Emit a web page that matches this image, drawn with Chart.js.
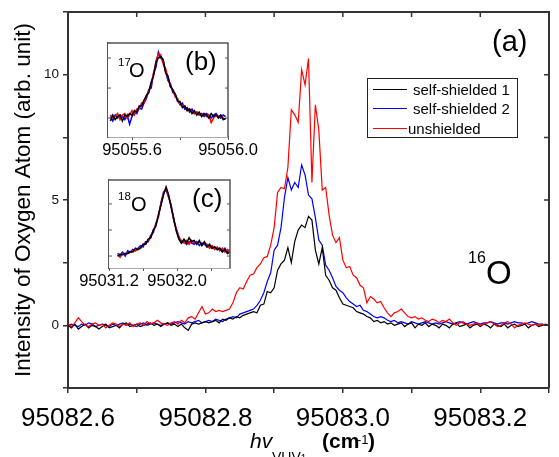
<!DOCTYPE html>
<html><head><meta charset="utf-8">
<script src="https://cdn.jsdelivr.net/npm/chart.js@4/dist/chart.umd.min.js"></script>
<style>
html,body{margin:0;padding:0;background:#fff;}
#wrap{position:relative;width:559px;height:457px;overflow:hidden;font-family:Arial,'Liberation Sans',sans-serif;color:#000;}
canvas{position:absolute;}
.t{position:absolute;white-space:nowrap;line-height:1;}
#legend{position:absolute;left:367px;top:78px;width:149px;height:58px;border:1px solid #222;background:#fff;}
.lg-line{position:absolute;height:1px;}
</style></head><body>
<div id="wrap">
<canvas id="main" width="559" height="457" style="left:0;top:0;width:559px;height:457px"></canvas>
<canvas id="insetB" width="210" height="125" style="left:68px;top:38px;width:210px;height:125px"></canvas>
<canvas id="insetC" width="210" height="125" style="left:69px;top:175px;width:210px;height:125px"></canvas>
<div id="legend"></div>
<div class="t" style="left:492px;top:27px;font-size:29px">(a)</div>
<div class="t" style="left:468px;top:250px;font-size:16px">16</div>
<div class="t" style="left:486px;top:256px;font-size:33px">O</div>
<div class="t" style="left:185px;top:48px;font-size:26px">(b)</div>
<div class="t" style="left:118px;top:57px;font-size:11.5px">17</div>
<div class="t" style="left:129px;top:60px;font-size:20px">O</div>
<div class="t" style="left:192px;top:185px;font-size:26px">(c)</div>
<div class="t" style="left:118px;top:191px;font-size:11.5px">18</div>
<div class="t" style="left:131px;top:194px;font-size:20px">O</div>
<div class="t" style="left:250px;top:430px;font-size:21px;font-style:italic">hv</div>
<div class="t" style="left:272px;top:450px;font-size:14px">VUV<span style="font-size:10px">1</span></div>
<div class="t" style="left:322px;top:430px;font-size:21px;font-weight:bold">(cm</div>
<div class="t" style="left:357px;top:433px;font-size:13px">-1</div>
<div class="t" style="left:368px;top:430px;font-size:21px;font-weight:bold">)</div>
</div>
<script>
// ---------- main panel (a): 16O ----------
const wavenumber = [
95082.600,95082.605,95082.610,95082.615,95082.620,95082.625,95082.630,95082.635,95082.640,95082.645,
95082.650,95082.655,95082.660,95082.665,95082.670,95082.675,95082.680,95082.685,95082.690,95082.695,
95082.700,95082.705,95082.710,95082.715,95082.720,95082.725,95082.730,95082.735,95082.740,95082.745,
95082.750,95082.755,95082.760,95082.765,95082.770,95082.775,95082.780,95082.785,95082.790,95082.795,
95082.800,95082.805,95082.810,95082.815,95082.820,95082.825,95082.830,95082.835,95082.840,95082.845,
95082.850,95082.855,95082.860,95082.865,95082.870,95082.875,95082.880,95082.885,95082.890,95082.895,
95082.900,95082.905,95082.910,95082.915,95082.920,95082.925,95082.930,95082.935,95082.940,95082.945,
95082.950,95082.955,95082.960,95082.965,95082.970,95082.975,95082.980,95082.985,95082.990,95082.995,
95083.000,95083.005,95083.010,95083.015,95083.020,95083.025,95083.030,95083.035,95083.040,95083.045,
95083.050,95083.055,95083.060,95083.065,95083.070,95083.075,95083.080,95083.085,95083.090,95083.095,
95083.100,95083.105,95083.110,95083.115,95083.120,95083.125,95083.130,95083.135,95083.140,95083.145,
95083.150,95083.155,95083.160,95083.165,95083.170,95083.175,95083.180,95083.185,95083.190,95083.195,
95083.200,95083.205,95083.210,95083.215,95083.220,95083.225,95083.230,95083.235,95083.240,95083.245,
95083.250,95083.255,95083.260,95083.265,95083.270,95083.275,95083.280,95083.285,95083.290,95083.295,
95083.300];
const selfShielded1 = [
0.0,-0.1,0.05,-0.15,-0.05,0.05,-0.1,0.0,-0.05,-0.15,
-0.05,0.05,-0.1,-0.05,0.0,-0.1,0.05,0.1,-0.05,0.0,
0.05,-0.05,0.0,0.05,0.1,0.0,0.05,-0.05,0.05,0.1,
0.0,0.05,-0.05,0.05,-0.1,-0.2,0.05,0.1,0.05,0.1,
0.15,0.1,0.15,0.2,0.1,0.25,0.2,0.3,0.25,0.35,
0.3,0.4,0.45,0.5,0.55,0.5,0.8,0.85,1.35,1.3,
1.5,2.2,2.45,2.6,3.1,2.5,3.35,3.8,4.0,3.9,
4.35,4.2,3.0,2.45,3.1,2.0,1.8,1.5,1.4,1.1,
0.85,0.8,0.75,0.7,0.55,0.5,0.45,0.35,0.3,0.15,
0.2,0.1,0.15,0.05,0.1,0.0,0.05,0.1,-0.05,0.05,
0.1,-0.1,0.05,0.0,0.1,-0.05,0.05,0.0,-0.1,0.05,
0.0,-0.1,0.05,0.1,-0.05,0.0,0.05,-0.1,0.0,0.05,
-0.05,0.05,0.0,-0.1,0.05,0.0,-0.05,0.05,-0.1,0.0,
0.05,-0.05,0.0,0.05,-0.1,0.0,0.05,-0.05,0.0,0.05,
0.0];
const selfShielded2 = [
0.0,0.05,0.0,-0.05,0.05,0.0,0.1,0.05,-0.05,0.0,
0.05,0.0,-0.05,0.05,0.0,0.05,0.1,0.0,0.05,0.0,
-0.05,0.05,0.1,0.0,0.05,0.1,0.05,0.0,0.05,0.1,
0.05,0.1,0.15,0.1,0.05,0.15,0.1,0.15,0.2,0.1,
0.15,0.2,0.15,0.25,0.2,0.15,0.25,0.3,0.35,0.3,
0.45,0.5,0.55,0.6,0.65,0.8,1.0,1.3,1.75,2.1,
3.0,3.2,3.9,5.1,5.9,5.4,5.7,5.5,6.4,6.0,
5.2,5.05,4.3,3.4,3.2,2.4,2.2,1.9,1.55,1.4,
1.3,1.1,0.95,0.85,0.75,0.8,0.6,0.55,0.45,0.35,
0.3,0.35,0.3,0.2,0.15,0.2,0.1,0.15,0.1,0.05,
0.15,0.1,0.05,0.1,0.15,0.1,0.05,0.1,0.05,0.1,
0.15,0.1,0.05,0.1,0.15,0.1,0.05,0.1,0.15,0.1,
0.05,0.1,0.1,0.15,0.1,0.05,0.1,0.1,0.05,0.1,
0.15,0.1,0.1,0.05,0.1,0.15,0.1,0.05,0.05,0.0,
0.0];
const unshielded = [
0.05,-0.05,0.1,0.3,0.15,0.0,-0.05,0.05,0.1,0.0,
0.05,-0.1,0.0,0.1,0.05,-0.05,0.05,0.0,0.1,-0.05,
0.05,0.1,0.0,0.15,0.05,0.1,0.2,0.1,0.05,0.0,
0.1,0.15,0.05,0.2,0.1,0.3,0.35,0.25,0.5,0.75,
0.45,0.5,0.65,0.55,0.6,0.55,0.6,0.65,0.9,1.3,
1.5,1.45,1.75,2.0,2.05,2.3,2.45,2.7,2.75,3.2,
3.9,5.3,5.5,5.45,6.3,8.6,8.4,8.1,10.2,9.6,
10.65,5.7,8.8,7.8,5.4,5.5,4.4,3.6,3.3,3.5,
2.6,2.3,2.35,2.0,1.9,1.6,1.5,0.9,1.15,1.05,
0.9,0.95,0.7,0.5,0.35,0.5,0.55,0.65,0.5,0.35,
0.3,0.35,0.25,0.3,0.2,0.15,0.25,0.2,0.1,0.2,
0.15,0.25,0.1,0.0,0.1,0.15,0.05,0.0,0.05,0.1,
0.0,0.05,0.1,0.15,0.05,-0.05,0.0,0.1,0.15,0.05,
-0.1,0.0,0.05,0.1,0.05,0.0,0.05,0.0,0.05,0.0,
0.0];
const seriesNames = ['self-shielded 1','self-shielded 2','unshielded'];
const seriesColors = ['#000000','#0000ff','#ff0000'];
const mainXTicks = [95082.6,95082.7,95082.8,95082.9,95083.0,95083.1,95083.2,95083.3];
const mainXTickLabels = ['95082.6','','95082.8','','95083.0','','95083.2',''];
const mainYTicks = [-2.5,0,2.5,5,7.5,10,12.5];
const mainYTickLabels = ['','0','','5','','10',''];
const yTitle = 'Intensity of Oxygen Atom (arb. unit)';

// ---------- inset (b): 17O ----------
const insetBX = [95055.51,95055.52,95055.53,95055.54,95055.55,95055.56,95055.57,95055.58,95055.59,95055.60,
95055.61,95055.62,95055.63,95055.64,95055.65,95055.66,95055.67,95055.68,95055.69,95055.70,
95055.71,95055.72,95055.73,95055.74,95055.75,95055.76,95055.77,95055.78,95055.79,95055.80,
95055.81,95055.82,95055.83,95055.84,95055.85,95055.86,95055.87,95055.88,95055.89,95055.90,
95055.91,95055.92,95055.93,95055.94,95055.95,95055.96,95055.97,95055.98,95055.99];
const insetBSelf1 = [-0.1,0.1,-0.05,0.05,0.1,-0.1,0.1,0.05,0.15,0.1, 0.25,0.2,0.4,0.4,0.6,0.75,0.85,1.2,1.4,1.85, 2.0,2.05,1.95,1.5,1.4,1.05,0.95,0.8,0.55,0.55, 0.35,0.4,0.25,0.3,0.15,0.25,0.1,0.2,0.05,0.15, 0.1,0.0,0.15,0.05,0.1,0.0,0.1,-0.05,0.0];
const insetBSelf2 = [0.05,-0.1,0.1,0.0,0.1,0.05,-0.05,0.1,-0.2,0.05, 0.2,0.15,0.35,0.3,0.5,0.65,0.95,1.0,1.5,1.7, 2.2,2.0,1.9,1.55,1.25,1.15,0.85,0.8,0.6,0.45, 0.5,0.3,0.35,0.2,0.3,0.15,0.2,0.1,0.15,0.05, 0.15,0.1,0.0,0.1,0.15,0.05,0.0,0.1,0.05];
const insetBUnsh = [0.1,0.0,0.05,0.15,-0.05,0.1,0.15,0.0,0.1,0.25, 0.1,0.3,0.3,0.5,0.5,0.75,0.9,1.15,1.5,1.9, 2.15,2.1,1.8,1.65,1.35,1.05,0.95,0.7,0.65,0.45, 0.4,0.4,0.25,0.3,0.2,0.15,0.2,0.1,0.1,0.15, 0.05,0.1,-0.15,0.0,0.1,0.05,0.1,0.0,-0.05];
const insetBXTicks = [95055.6,95055.8,95056.0];
const insetBXTickLabels = ['95055.6','','95056.0'];

// ---------- inset (c): 18O ----------
const insetCX = [95031.30,95031.33,95031.36,95031.39,95031.42,95031.45,95031.48,95031.51,95031.54,95031.57,
95031.60,95031.63,95031.66,95031.69,95031.72,95031.75,95031.78,95031.81,95031.84,95031.87,
95031.90,95031.93,95031.96,95031.99,95032.02,95032.05,95032.08,95032.11,95032.14,95032.17,
95032.20,95032.23,95032.26,95032.29,95032.32,95032.35,95032.38,95032.41,95032.44,95032.47,
95032.50,95032.53,95032.56,95032.59,95032.62];
const insetCSelf1 = [0.0,0.05,0.05,0.1,0.1,0.15,0.15,0.3,0.25,0.3, 0.45,0.45,0.65,0.7,1.0,1.15,1.6,1.95,2.35,2.65, 2.35,1.85,1.45,0.95,0.65,0.5,0.65,0.5,0.7,0.55, 0.6,0.45,0.6,0.4,0.55,0.35,0.45,0.3,0.35,0.25, 0.3,0.15,0.25,0.1,0.15];
const insetCSelf2 = [0.1,0.05,0.15,0.0,0.2,0.15,0.25,0.2,0.3,0.4, 0.35,0.55,0.55,0.8,0.9,1.25,1.5,2.05,2.45,2.55, 2.25,1.95,1.35,1.05,0.75,0.5,0.55,0.45,0.55,0.5, 0.45,0.55,0.4,0.5,0.45,0.35,0.4,0.3,0.35,0.25, 0.3,0.2,0.3,0.15,0.25];
const insetCUnsh = [0.05,-0.05,0.1,0.1,0.1,0.15,0.2,0.2,0.25,0.3, 0.45,0.45,0.6,0.7,1.0,1.2,1.55,2.0,2.4,2.6, 2.3,1.9,1.4,1.0,0.7,0.6,0.5,0.6,0.45,0.6, 0.5,0.5,0.55,0.4,0.5,0.45,0.3,0.4,0.25,0.35, 0.2,0.3,0.15,0.25,0.15];
const insetCXTicks = [95031.2,95031.6,95032.0,95032.4];
const insetCXTickLabels = ['95031.2','','95032.0',''];
const insetYTicks = [0,1,2];

// ---------- helpers ----------
const ARIAL = "Arial, 'Liberation Sans', sans-serif";
function ds(label, xs, ys, color, width) {
  return {label, data: xs.map((x,i)=>({x, y: ys[i]})), borderColor: color, backgroundColor: color,
          borderWidth: width, pointRadius: 0, tension: 0, fill: false};
}
const frameTicks = {
  id: 'frameTicks',
  beforeDatasetsDraw(chart, args, o) {
    if (!o.whiteBg) return;
    const a = chart.chartArea, ctx = chart.ctx;
    ctx.save(); ctx.fillStyle = '#fff'; ctx.fillRect(a.left, a.top, a.right-a.left, a.bottom-a.top); ctx.restore();
  },
  afterDraw(chart, args, o) {
    const {ctx, chartArea: a, scales} = chart;
    ctx.save();
    ctx.strokeStyle = o.color; ctx.lineWidth = o.width;
    ctx.beginPath();
    ctx.moveTo(a.left, a.top); ctx.lineTo(a.right, a.top); ctx.lineTo(a.right, a.bottom);
    ctx.stroke();
    ctx.lineWidth = o.tickWidth;
    ctx.beginPath();
    (o.top||[]).forEach(v=>{const x=scales.x.getPixelForValue(v); ctx.moveTo(x,a.top); ctx.lineTo(x,a.top+o.len);});
    (o.right||[]).forEach(v=>{const y=scales.y.getPixelForValue(v); ctx.moveTo(a.right,y); ctx.lineTo(a.right-o.len,y);});
    (o.left||[]).forEach(v=>{const y=scales.y.getPixelForValue(v); ctx.moveTo(a.left,y); ctx.lineTo(a.left+o.len,y);});
    ctx.stroke();
    ctx.restore();
  }
};

// ---------- main chart ----------
new Chart(document.getElementById('main'), {
  type: 'line',
  data: { datasets: [
    ds(seriesNames[2], wavenumber, unshielded, seriesColors[2], 1.2),
    ds(seriesNames[0], wavenumber, selfShielded1, seriesColors[0], 1.2),
    ds(seriesNames[1], wavenumber, selfShielded2, seriesColors[1], 1.2)
  ]},
  options: {
    responsive: false, animation: false, devicePixelRatio: 1,
    layout: { padding: {left: 0, right: 1, top: 10, bottom: 0} },
    plugins: { legend: {display: false}, tooltip: {enabled: false},
      frameTicks: {color: '#333', width: 2, tickWidth: 1.5, len: 5,
                   top: mainXTicks.slice(1, -1), right: mainYTicks.slice(1, -1)} },
    scales: {
      x: { type: 'linear', min: 95082.6, max: 95083.3,
        afterBuildTicks: s => { s.ticks = mainXTicks.map(v => ({value: v})); },
        afterFit: s => { s.height = 69; },
        ticks: { autoSkip: false, maxRotation: 0, minRotation: 0, padding: 10, color: '#000',
          font: {family: ARIAL, size: 26},
          callback: (v, i) => mainXTickLabels[i] },
        grid: { drawOnChartArea: false, tickLength: 5, color: '#333', lineWidth: 1.5 },
        border: { display: true, color: '#333', width: 2 }
      },
      y: { type: 'linear', min: -2.5, max: 12.5,
        afterBuildTicks: s => { s.ticks = mainYTicks.map(v => ({value: v})); },
        afterFit: s => { s.width = 68; },
        ticks: { autoSkip: false, padding: 4, color: '#111', font: {family: ARIAL, size: 13.5},
          callback: (v, i) => mainYTickLabels[i] },
        grid: { drawOnChartArea: false, tickLength: 5, color: '#333', lineWidth: 1.5 },
        border: { display: true, color: '#333', width: 2 },
        title: { display: true, text: yTitle, color: '#000', font: {family: ARIAL, size: 22.5},
          padding: {top: 10, bottom: 0} }
      }
    }
  },
  plugins: [frameTicks]
});

// ---------- insets ----------
function inset(id, xs, s1, s2, u, xmin, xmax, ymin, ymax, xTicks, xLabels, padRight, xHeight) {
  new Chart(document.getElementById(id), {
    type: 'line',
    data: { datasets: [
      ds(seriesNames[0], xs, s1, seriesColors[0], 1.5),
      ds(seriesNames[2], xs, u, seriesColors[2], 1.5),
      ds(seriesNames[1], xs, s2, seriesColors[1], 1.5)
    ]},
    options: {
      responsive: false, animation: false, devicePixelRatio: 1,
      layout: { padding: {left: 0, right: padRight, top: 5, bottom: 0} },
      plugins: { legend: {display: false}, tooltip: {enabled: false},
        frameTicks: {whiteBg: true, color: '#555', width: 1.5, tickWidth: 1, len: 3,
                     left: insetYTicks, right: insetYTicks} },
      scales: {
        x: { type: 'linear', min: xmin, max: xmax,
          afterBuildTicks: s => { s.ticks = xTicks.map(v => ({value: v})); },
          afterFit: s => { s.height = xHeight; },
          ticks: { autoSkip: false, maxRotation: 0, minRotation: 0, padding: 1, color: '#000',
            font: {family: ARIAL, size: 16.5}, callback: (v, i) => xLabels[i] },
          grid: { drawOnChartArea: false, tickLength: 3, color: '#555', lineWidth: 1 },
          border: { display: true, color: '#555', width: 1.5 }
        },
        y: { type: 'linear', min: ymin, max: ymax,
          afterBuildTicks: s => { s.ticks = insetYTicks.map(v => ({value: v})); },
          afterFit: s => { s.width = 40; },
          ticks: { display: false },
          grid: { drawOnChartArea: false, drawTicks: false },
          border: { display: true, color: '#555', width: 1.5 }
        }
      }
    },
    plugins: [frameTicks]
  });
}
inset('insetB', insetBX, insetBSelf1, insetBSelf2, insetBUnsh, 95055.5, 95056.0, -0.63, 2.5,
      insetBXTicks, insetBXTickLabels, 50, 26);
inset('insetC', insetCX, insetCSelf1, insetCSelf2, insetCUnsh, 95031.2, 95032.62, -0.46, 2.92,
      insetCXTicks, insetCXTickLabels, 49, 32);

// ---------- legend ----------
const legend = document.getElementById('legend');
const legendRows = [10, 29, 49];
const legendTextX = [45, 45, 40];
[0,1,2].forEach(i => {
  const ln = document.createElement('div');
  ln.className = 'lg-line';
  ln.style.left = '5px';
  ln.style.top = legendRows[i] + 'px';
  ln.style.width = '34px';
  ln.style.backgroundColor = seriesColors[i];
  legend.appendChild(ln);
  const tx = document.createElement('div');
  tx.className = 't';
  tx.style.left = legendTextX[i] + 'px';
  tx.style.top = (legendRows[i] - 7) + 'px';
  tx.style.fontSize = '15px';
  tx.textContent = seriesNames[i];
  legend.appendChild(tx);
});
</script>
</body></html>
